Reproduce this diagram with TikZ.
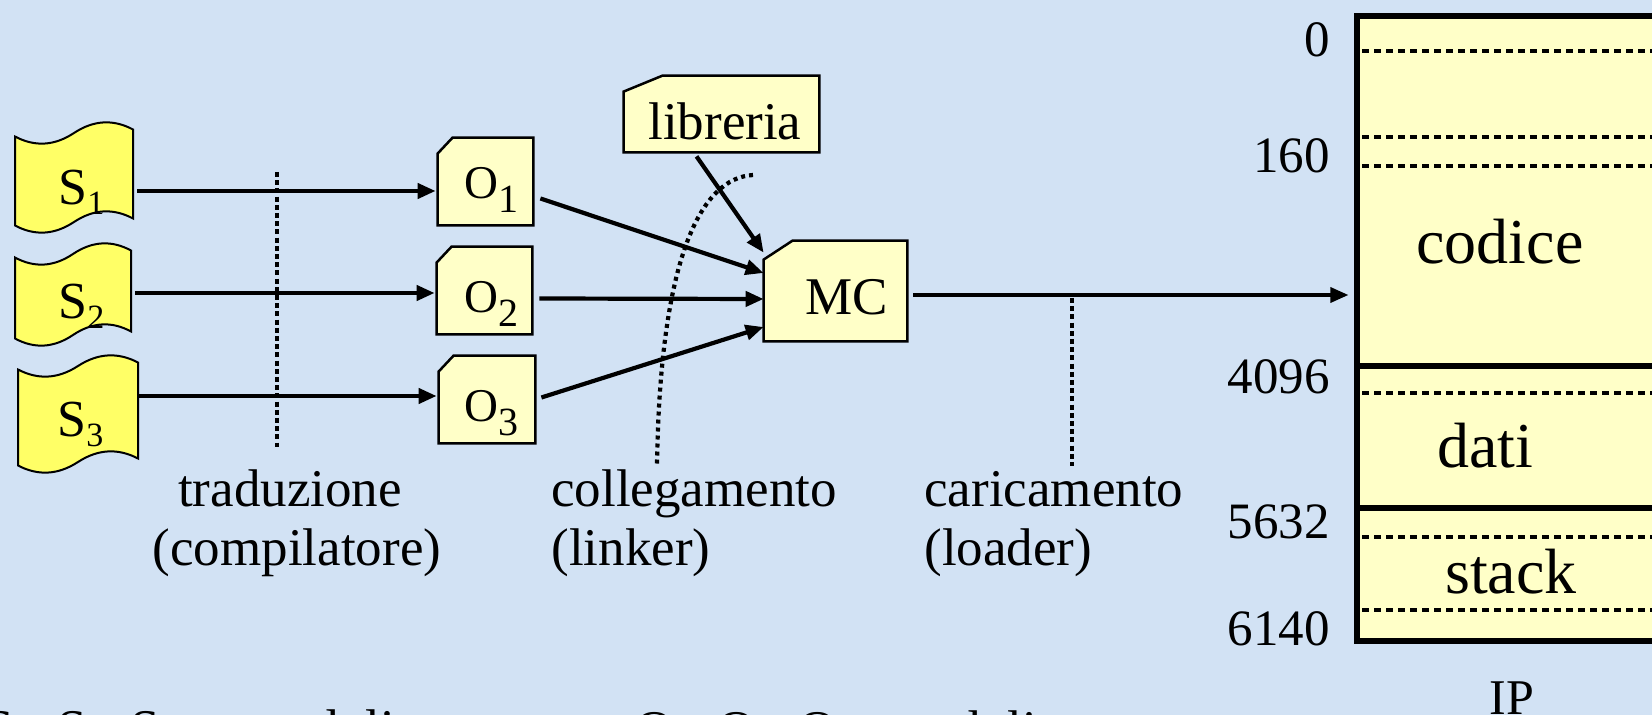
\documentclass[tikz,border=0pt]{standalone}
\usepackage{fontspec}
\setmainfont{Liberation Serif}
\usetikzlibrary{arrows.meta,calc,fit}
\definecolor{bgblue}{RGB}{210,226,244}
\definecolor{syel}{RGB}{255,255,102}
\definecolor{pyel}{RGB}{255,255,200}
\newcommand\ssub[1]{\raisebox{-5pt}{\fontsize{17}{17}\selectfont #1}}
\newcommand\osub[1]{\raisebox{-7pt}{\fontsize{20}{20}\selectfont #1}}
\tikzset{
  sshape/.style={draw=black, line width=1pt, fill=syel},
  obox/.style={draw=black, line width=1.25pt, fill=pyel},
  arr/.style={line width=2.1pt, -{Triangle[length=9pt,width=7.5pt]}},
  vdot/.style={line width=1.9pt, dash pattern=on 2.5pt off 1.6pt},
  cdot/.style={line width=2.1pt, dash pattern=on 2pt off 2pt},
  mdot/.style={line width=2.4pt, dash pattern=on 3.5pt off 2.5pt},
  msolid/.style={line width=2.6pt},
  lab/.style={font=\fontsize{26.5}{30}\selectfont, inner sep=0},
  stxt/.style={font=\fontsize{26}{30}\selectfont, inner sep=0, anchor=base west},
  otxt/.style={font=\fontsize{23.5}{28}\selectfont, inner sep=0, anchor=base west},
  num/.style={font=\fontsize{25.5}{30}\selectfont, inner sep=0, anchor=base east},
  mtxt/.style={font=\fontsize{32}{36}\selectfont, inner sep=0, anchor=base},
}
% wavy tape shape: name, x0, x1, top-mid y, bottom-mid y
\newcommand\tape[5]{%
  \pgfmathsetmacro\tw{#3-#2}%
  \pgfmathsetmacro\tm{(#2+#3)/2}%
  \draw[sshape] (#2,#4+3.5)
     .. controls (#2+\tw/6,#4+14) and (#2+\tw/3,#4+13) .. (\tm,#4)
     .. controls (\tm+\tw/6,#4-13) and (\tm+\tw/3,#4-14) .. (#3,#4-3.5)
     -- (#3,#5-3.5)
     .. controls (\tm+\tw/3,#5-14) and (\tm+\tw/6,#5-13) .. (\tm,#5)
     .. controls (#2+\tw/3,#5+13) and (#2+\tw/6,#5+14) .. (#2,#5+3.5)
     -- cycle;
  \node[fit={(#2,#4-12) (#3,#5+12)}, inner sep=0] (#1) {};
}
% snipped-corner box: name, x1, y1, x2, y2, cut x, cut y
\newcommand\snip[7]{%
  \node[fit={(#2,#3) (#4,#5)}, inner sep=0] (#1) {};
  \draw[obox] (#1.south west) -- ($(#1.north west)+(0,#7)$) -- ($(#1.north west)+(#6,0)$)
    -- (#1.north east) -- (#1.south east) -- cycle;
}
\begin{document}
\begin{tikzpicture}[x=0.5pt,y=-0.5pt]
\useasboundingbox (0,0) rectangle (1652,715);
\fill[bgblue] (0,0) rectangle (1652,715);
\clip (0,0) rectangle (1652,715);

% source tapes
\tape{s1}{15}{133}{133}{222}
\tape{s2}{15}{131}{254}{335}
\tape{s3}{18}{138}{366}{462}
\node[stxt] (s1t) at (58,205) {S\ssub{1}};
\node[stxt] (s2t) at (58,319) {S\ssub{2}};
\node[stxt] (s3t) at (57,437) {S\ssub{3}};

% object boxes
\snip{o1}{438}{138}{533}{225}{15}{16}
\snip{o2}{437}{247}{532}{334}{15}{16}
\snip{o3}{439}{356}{535}{443}{15}{16}
\node[otxt] (o1t) at (464,199) {O\osub{1}};
\node[otxt] (o2t) at (464,313) {O\osub{2}};
\node[otxt] (o3t) at (464,422) {O\osub{3}};

\snip{mc}{764}{241}{907}{341}{29}{19}
\node[lab, anchor=base west] (mct) at (805,315) {MC};
\snip{lib}{624}{76}{819}{152}{39}{16}
\node[lab, anchor=base west] (libt) at (648,140) {libreria};

% memory image
\node[fit={(1357,16) (1700,641)}, inner sep=0, draw, line width=2.6pt, fill=pyel] (mem) {};
\draw[mdot] (1362,51) -- (1660,51);
\draw[mdot] (1362,137) -- (1660,137);
\draw[mdot] (1362,166) -- (1660,166);
\draw[msolid] (1357,366) -- (1660,366);
\draw[mdot] (1362,393) -- (1660,393);
\draw[msolid] (1357,508) -- (1660,508);
\draw[mdot] (1362,537) -- (1660,537);
\draw[mdot] (1362,610) -- (1660,610);
\node[mtxt] (cod) at (1500,264) {codice};
\node[mtxt] (dat) at (1485,467) {dati};
\node[mtxt] (stk) at (1511,593) {stack};
\node[num] (n0) at (1330,57) {0};
\node[num] (n160) at (1330,173) {160};
\node[num] (n4096) at (1330,394) {4096};
\node[num] (n5632) at (1330,538) {5632};
\node[num] (n6140) at (1330,645) {6140};
\node[font=\fontsize{25}{30}\selectfont, inner sep=0, anchor=base] (ip) at (1512,714) {IP};

% connectors
\coordinate (r1) at (0,191);
\coordinate (r2) at (0,293);
\coordinate (r3) at (0,396);
\coordinate (r4) at (0,295);
\draw[arr, shorten <=2pt, shorten >=1pt] (s1.east |- r1) -- (o1.west |- r1);
\draw[arr, shorten <=2pt, shorten >=1pt] (s2.east |- r2) -- (o2.west |- r2);
\draw[arr, shorten >=1pt] (s3.east |- r3) -- (o3.west |- r3);
\draw[arr] ($(o1.east)+(7,17)$) -- ($(mc.west)+(0,-18)$);
\draw[arr] ($(o2.east)+(7,8)$) -- ($(mc.west)+(0,8)$);
\draw[arr] ($(o3.east)+(6,-2)$) -- ($(mc.west)+(0,36)$);
\draw[arr] ($(lib.south)+(-25,4)$) -- ($(mc.north west)+(0,12)$);
\draw[arr, line width=1.7pt, shorten <=3pt, shorten >=3pt] (mc.east |- r4) -- (mem.west |- r4);

% phase separators
\draw[vdot] (277,172) -- (277,447);
\draw[cdot] (753,175) .. controls (700,178) and (660,260) .. (657,465);
\draw[vdot] (1072,298) -- (1072,466);

% phase labels
\node[lab, anchor=base] (t1) at (290,506) {traduzione};
\node[lab, anchor=base] (t2) at (297,565) {(compilatore)};
\node[lab, anchor=base west] (c1) at (551,506) {collegamento};
\node[lab, anchor=base west] (c2) at (551,565) {(linker)};
\node[lab, anchor=base west] (k1) at (924,506) {caricamento};
\node[lab, anchor=base west] (k2) at (924,565) {(loader)};

% bottom legend (cut off by the lower edge, as in the reference)
\node[lab, anchor=base west] (leg1) at (-16,746) {S\ssub{1}, S\ssub{2}, S\ssub{3}:\hspace{18pt} moduli sorgente};
\node[lab, anchor=base west] (leg2) at (635,747) {O\ssub{1}, O\ssub{2}, O\ssub{3}: moduli oggetto};
\end{tikzpicture}
\end{document}
